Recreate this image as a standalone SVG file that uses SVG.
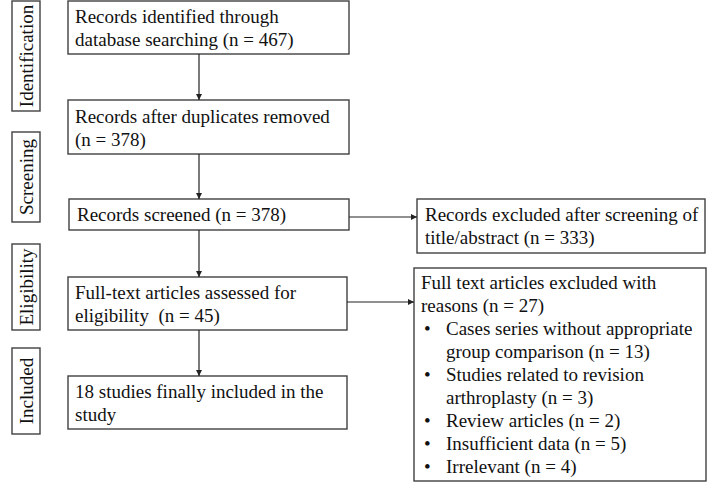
<svg xmlns="http://www.w3.org/2000/svg" width="709" height="484" viewBox="0 0 709 484">
<style>
.box{fill:#fff;stroke:#404040;stroke-width:1.4}
.t{font-family:"Liberation Serif","Times New Roman",serif;font-size:19px;fill:#111}
.c{stroke:#222;stroke-width:1.2;fill:none}
</style>
<defs>
<marker id="ah" viewBox="0 0 10 10" refX="10" refY="5" markerWidth="6" markerHeight="6" markerUnits="userSpaceOnUse" orient="auto">
<path d="M0,0 L10,5 L0,10 z" fill="#222"/>
</marker>
</defs>
<rect width="709" height="484" fill="#fff"/>
<g id="lbl-identification"><rect class="box" x="12" y="1" width="28" height="110"/><text class="t" transform="translate(33,56) rotate(-90)" text-anchor="middle">Identification</text></g>
<g id="lbl-screening"><rect class="box" x="12" y="132" width="28" height="90"/><text class="t" transform="translate(33,177) rotate(-90)" text-anchor="middle">Screening</text></g>
<g id="lbl-eligibility"><rect class="box" x="12" y="244" width="28" height="86"/><text class="t" transform="translate(33,287) rotate(-90)" text-anchor="middle">Eligibility</text></g>
<g id="lbl-included"><rect class="box" x="12" y="348" width="28" height="86"/><text class="t" transform="translate(33,391) rotate(-90)" text-anchor="middle">Included</text></g>
<g id="identified"><rect class="box" x="68" y="1" width="281" height="53"/><text class="t" x="75" y="23">Records identified through</text><text class="t" x="75" y="46">database searching (n = 467)</text></g>
<g id="dedup"><rect class="box" x="68" y="100" width="281" height="54"/><text class="t" x="75" y="123">Records after duplicates removed</text><text class="t" x="75" y="146">(n = 378)</text></g>
<g id="screened"><rect class="box" x="69" y="199" width="280" height="31"/><text class="t" x="77" y="221">Records screened (n = 378)</text></g>
<g id="fulltext"><rect class="box" x="68" y="277" width="279" height="53"/><text class="t" x="75" y="299">Full-text articles assessed for</text><text class="t" x="75" y="322" xml:space="preserve">eligibility  (n = 45)</text></g>
<g id="included"><rect class="box" x="68" y="376" width="279" height="53"/><text class="t" x="75" y="398">18 studies finally included in the</text><text class="t" x="75" y="421">study</text></g>
<g id="excluded1"><rect class="box" x="417" y="199" width="288" height="54"/><text class="t" x="425" y="221">Records excluded after screening of</text><text class="t" x="425" y="244">title/abstract (n = 333)</text></g>
<g id="excluded2"><rect class="box" x="414" y="268" width="292" height="213"/>
<text class="t" x="421" y="289">Full text articles excluded with</text>
<text class="t" x="421" y="312">reasons (n = 27)</text>
<text class="t" x="424" y="335">•</text><text class="t" x="446" y="335">Cases series without appropriate</text>
<text class="t" x="446" y="358">group comparison (n = 13)</text>
<text class="t" x="424" y="381">•</text><text class="t" x="446" y="381">Studies related to revision</text>
<text class="t" x="446" y="404">arthroplasty (n = 3)</text>
<text class="t" x="424" y="427">•</text><text class="t" x="446" y="427">Review articles (n = 2)</text>
<text class="t" x="424" y="450">•</text><text class="t" x="446" y="450">Insufficient data (n = 5)</text>
<text class="t" x="424" y="473">•</text><text class="t" x="446" y="473">Irrelevant (n = 4)</text>
</g>
<g id="connectors">
<line class="c" x1="199" y1="54" x2="199" y2="100" marker-end="url(#ah)"/>
<line class="c" x1="199" y1="154" x2="199" y2="199" marker-end="url(#ah)"/>
<line class="c" x1="199" y1="230" x2="199" y2="277" marker-end="url(#ah)"/>
<line class="c" x1="199" y1="330" x2="199" y2="376" marker-end="url(#ah)"/>
<line class="c" x1="349" y1="217" x2="417" y2="217" marker-end="url(#ah)"/>
<line class="c" x1="347" y1="302" x2="414" y2="302" marker-end="url(#ah)"/>
</g>
</svg>
